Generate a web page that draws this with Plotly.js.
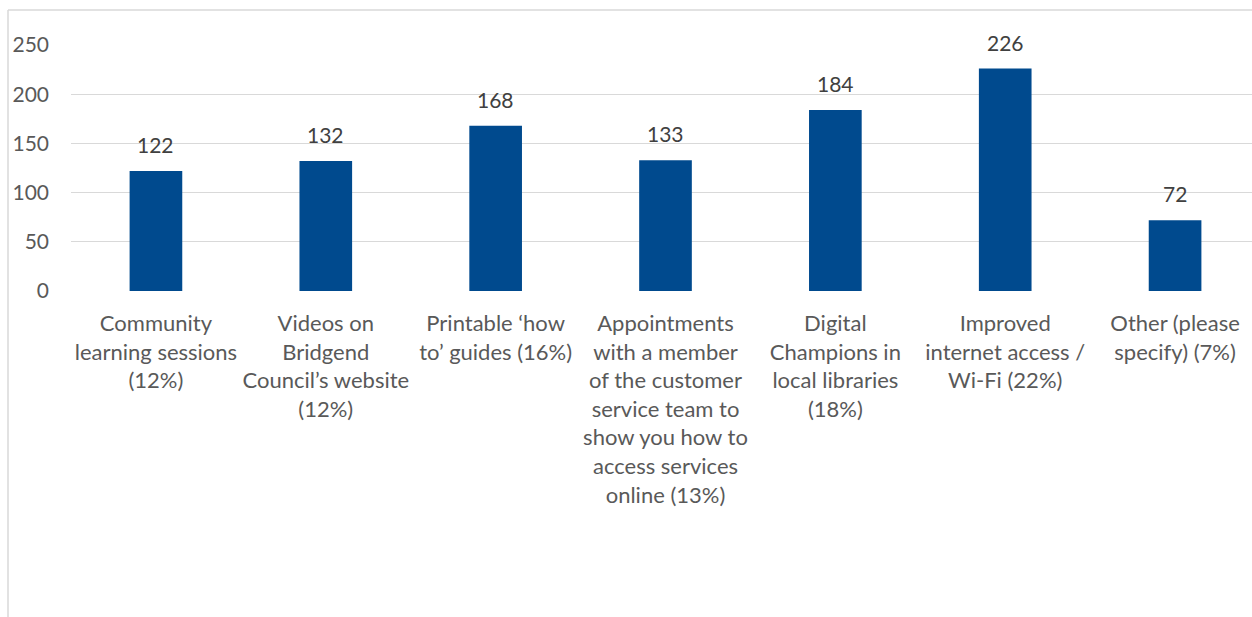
<!DOCTYPE html>
<html>
<head>
<meta charset="utf-8">
<script src="https://cdn.plot.ly/plotly-3.0.1.min.js"></script>
<style>
html, body { margin: 0; padding: 0; overflow: hidden; background: #fff; width: 1252px; height: 617px; }
#chart { width: 1270px; height: 617px; }
</style>
</head>
<body>
<div id="chart"></div>
<script>
const categories = [
  "Community<br>learning sessions<br>(12%)",
  "Videos on<br>Bridgend<br>Council’s website<br>(12%)",
  "Printable ‘how<br>to’ guides (16%)",
  "Appointments<br>with a member<br>of the customer<br>service team to<br>show you how to<br>access services<br>online (13%)",
  "Digital<br>Champions in<br>local libraries<br>(18%)",
  "Improved<br>internet access /<br>Wi-Fi (22%)",
  "Other (please<br>specify) (7%)"
];
const values = [122, 132, 168, 133, 184, 226, 72];
const yTicks = [0, 50, 100, 150, 200, 250];

const FONT = "Lato, 'Open Sans', sans-serif";
const W = 1270, H = 617;
const mL = 71, mR = 10, mT = 45, mB = 326;
const pw = W - mL - mR, ph = H - mT - mB;
const px2x = p => (p - mL) / pw;
const py2y = p => (H - mB - p) / ph;

const annotations = values.map((v, i) => ({
  x: i, y: v, xref: 'x', yref: 'y',
  text: String(v), showarrow: false,
  yanchor: 'bottom', yshift: 12,
  font: { family: FONT, size: 21, color: '#404040' }
}));

const data = [{
  type: 'bar',
  x: categories.map((c, i) => i),
  y: values,
  marker: { color: '#004A8E' },
  hoverinfo: 'skip'
}];

const layout = {
  width: W, height: H,
  margin: { l: mL, r: mR, t: mT, b: mB, pad: 0 },
  paper_bgcolor: '#fff', plot_bgcolor: '#fff',
  showlegend: false,
  bargap: 0.69,
  font: { family: FONT, size: 21, color: '#595959' },
  xaxis: {
    range: [-0.5, 6.5],
    tickmode: 'array',
    tickvals: categories.map((c, i) => i),
    ticktext: categories,
    tickangle: 0,
    showgrid: false, zeroline: false, showline: false,
    ticks: '', ticklabelstandoff: 17,
    tickfont: { family: FONT, size: 22, color: '#595959' },
    fixedrange: true
  },
  yaxis: {
    range: [0, 250],
    tickmode: 'array',
    tickvals: yTicks,
    ticktext: yTicks.map(String),
    showgrid: true, gridcolor: '#d9d9d9', gridwidth: 1,
    zeroline: false, showline: false,
    ticks: '', ticklabelstandoff: 21,
    tickfont: { family: FONT, size: 21, color: '#595959' },
    fixedrange: true
  },
  annotations: annotations,
  shapes: [
    { type: 'line', xref: 'paper', yref: 'paper', layer: 'below',
      x0: px2x(8), x1: px2x(8), y0: py2y(10), y1: py2y(640),
      line: { color: '#d9d9d9', width: 1.5 } },
    { type: 'line', xref: 'paper', yref: 'paper', layer: 'below',
      x0: px2x(8), x1: px2x(1300), y0: py2y(10), y1: py2y(10),
      line: { color: '#d9d9d9', width: 1.5 } }
  ]
};

Plotly.newPlot('chart', data, layout, { displayModeBar: false, staticPlot: true });
</script>
</body>
</html>
